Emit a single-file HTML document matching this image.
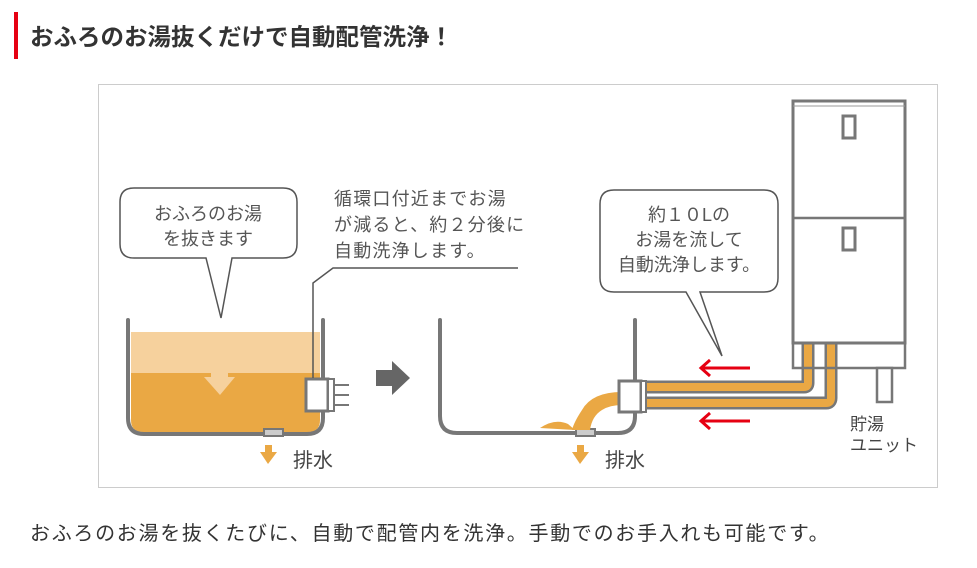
<!DOCTYPE html>
<html><head><meta charset="utf-8"><style>
body{margin:0;background:#fff;width:977px;height:568px;overflow:hidden;font-family:"Liberation Sans","Noto Sans CJK JP",sans-serif;}
.bar{position:absolute;left:14px;top:12px;width:4px;height:47px;background:#e60012;}
.title{position:absolute;left:30px;top:18px;font-size:23.5px;font-weight:bold;color:#333;white-space:nowrap;}
.cap{position:absolute;left:30px;top:517px;font-size:20px;letter-spacing:1.7px;color:#333;white-space:nowrap;}
svg{position:absolute;left:0;top:0;}
</style></head><body>
<div class="bar"></div>
<div class="title">おふろのお湯抜くだけで自動配管洗浄！</div>
<svg width="977" height="568" font-family="Liberation Sans, Noto Sans CJK JP, sans-serif">
<rect x="98.5" y="84.5" width="839" height="403" fill="#fff" stroke="#ccc"/>
<rect x="131" y="332" width="189" height="42" fill="#f6d19d"/>
<path d="M131 373 H320 V420 Q320 432 308 432 H143 Q131 432 131 420 Z" fill="#eaa844"/>
<polygon points="204,377 235,377 220,395" fill="#f6d19d"/>
<rect x="211" y="373" width="17" height="6" fill="#f6d19d"/>
<path d="M128 320 V418 Q128 434 144 434 H307 Q323 434 323 418 V320" fill="none" stroke="#777" stroke-width="4" stroke-linecap="round"/>
<rect x="264" y="429" width="19" height="7" fill="#ccc" stroke="#777" stroke-width="2"/>
<rect x="306" y="379" width="22" height="32" fill="#fff" stroke="#777" stroke-width="3"/>
<rect x="328" y="379" width="6" height="32" fill="#fff" stroke="#777" stroke-width="2"/>
<line x1="334" y1="385" x2="349" y2="385" stroke="#777" stroke-width="2"/>
<line x1="334" y1="395" x2="349" y2="395" stroke="#777" stroke-width="2"/>
<line x1="334" y1="405" x2="349" y2="405" stroke="#777" stroke-width="2"/>
<polyline points="313,378 313,283 333,268 518,268" fill="none" stroke="#555" stroke-width="1.5"/>
<path d="M134 188 H283 Q297 188 297 202 V244 Q297 258 283 258 H232 L221 318 L206 258 H134 Q120 258 120 244 V202 Q120 188 134 188 Z" fill="#fff" stroke="#555" stroke-width="1.5"/>
<text font-size="18" fill="#555" text-anchor="middle"><tspan x="208" y="220">おふろのお湯</tspan><tspan x="208" y="245">を抜きます</tspan></text>
<text font-size="18" fill="#555" letter-spacing="1.2"><tspan x="334" y="205">循環口付近までお湯</tspan><tspan x="334" y="231">が減ると、約２分後に</tspan><tspan x="334" y="257">自動洗浄します。</tspan></text>
<polygon points="376,370 392,370 392,361 410,378 392,395 392,386 376,386" fill="#666"/>
<path d="M440 320 V416 Q440 433 457 433 H618 Q635 433 635 416 V320" fill="none" stroke="#777" stroke-width="4" stroke-linecap="round"/>
<rect x="576" y="429" width="19" height="7" fill="#ccc" stroke="#777" stroke-width="2"/>
<path d="M622 392 Q592 392 582 410 Q574 422 572 430 L590 430 Q592 416 602 410 Q610 405 622 405 Z" fill="#eaa844"/>
<path d="M540 428 Q555 418 568 424 L575 430 Z" fill="#eaa844"/>
<path d="M640 387 H804 Q808 387 808 383 V342" fill="none" stroke="#777" stroke-width="13"/>
<path d="M640 387 H804 Q808 387 808 383 V342" fill="none" stroke="#eaa844" stroke-width="8"/>
<path d="M640 403 H826 Q831 403 831 398 V342" fill="none" stroke="#777" stroke-width="13"/>
<path d="M640 403 H826 Q831 403 831 398 V342" fill="none" stroke="#eaa844" stroke-width="8"/>
<rect x="619" y="381" width="22" height="31" fill="#fff" stroke="#777" stroke-width="3"/>
<rect x="641" y="381" width="5" height="31" fill="#fff" stroke="#777" stroke-width="2"/>
<g stroke="#e60012" stroke-width="3" fill="none"><line x1="702" y1="368" x2="750" y2="368"/><polyline points="710,360 701,368 710,376"/><line x1="702" y1="421" x2="750" y2="421"/><polyline points="710,413 701,421 710,429"/></g>
<rect x="793" y="101" width="112" height="242" fill="#fff" stroke="#777" stroke-width="3"/>
<line x1="793" y1="218" x2="905" y2="218" stroke="#777" stroke-width="2.5"/>
<line x1="793" y1="106" x2="905" y2="106" stroke="#999" stroke-width="1"/>
<rect x="843" y="116" width="12" height="22" fill="#fff" stroke="#777" stroke-width="3"/>
<rect x="843" y="228" width="12" height="22" fill="#fff" stroke="#777" stroke-width="3"/>
<rect x="793" y="343" width="112" height="25" fill="none" stroke="#777" stroke-width="2.5"/>
<rect x="877" y="368" width="15" height="34" fill="#fff" stroke="#777" stroke-width="2.5"/>
<text font-size="17" fill="#444"><tspan x="850" y="430">貯湯</tspan><tspan x="850" y="451">ユニット</tspan></text>
<path d="M614 190 H764 Q778 190 778 204 V278 Q778 292 764 292 H700 L722 356 L686 292 H614 Q600 292 600 278 V204 Q600 190 614 190 Z" fill="#fff" stroke="#555" stroke-width="1.5"/>
<text font-size="18" fill="#555" text-anchor="middle"><tspan x="689" y="221">約１０Lの</tspan><tspan x="689" y="246">お湯を流して</tspan><tspan x="689" y="271">自動洗浄します。</tspan></text>
<g fill="#eaa844"><rect x="265" y="445" width="7" height="8"/><polygon points="260,452 277,452 268,464"/><rect x="577" y="445" width="7" height="8"/><polygon points="572,452 589,452 580,464"/></g>
<text font-size="20" fill="#444" x="293" y="467">排水</text>
<text font-size="20" fill="#444" x="605" y="467">排水</text>
</svg>
<div class="cap">おふろのお湯を抜くたびに、自動で配管内を洗浄。手動でのお手入れも可能です。</div>
</body></html>
